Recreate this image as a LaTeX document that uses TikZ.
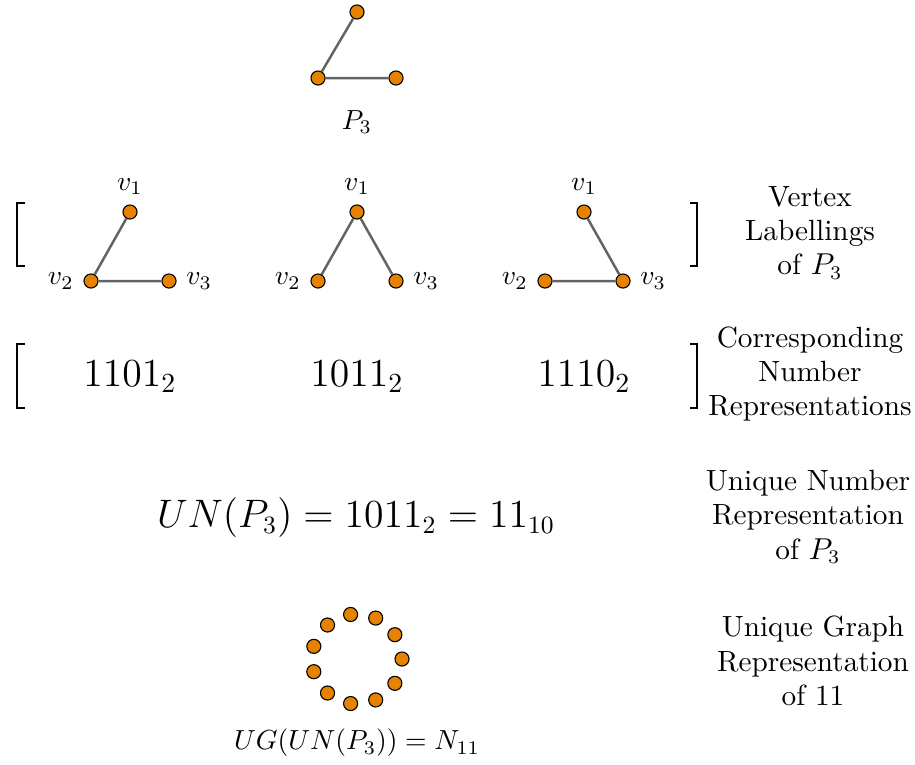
\documentclass[tikz,border=0pt]{standalone}
\usepackage{amsmath,amssymb}
\usepackage{tikz}
\usetikzlibrary{positioning,calc}
\definecolor{vertexorange}{RGB}{230,130,0}
\definecolor{edgegray}{RGB}{100,100,100}

\begin{document}
\begin{tikzpicture}[x=0.3623pt,y=-0.3623pt,
    vert/.style={circle, draw=black, line width=0.4pt, fill=vertexorange, inner sep=0pt, minimum size=5.1pt},
    edge/.style={edgegray, line width=0.9pt},
    brk/.style={line width=1pt},
    caption/.style={align=center, font=\fontsize{10.6}{12.4}\selectfont},
    numtext/.style={font=\fontsize{14}{17}\selectfont}]
  \useasboundingbox (0,0) rectangle (915,764);

  % the path P_3
  \node[vert] (t1) at (357,12) {};
  \node[vert] (t2) at (318,78) {};
  \node[vert] (t3) at (396,78) {};
  \draw[edge] (t1) -- (t2) -- (t3);
  \node (tlab) at (357,122) {$P_3$};

  % its three labellings
  \foreach \n/\x in {a/130, b/357, c/584} {
    \node[vert, label=above:$v_1$] (\n1) at (\x,212) {};
    \node[vert, label=left:$v_2$] (\n2) at (\x-39,281) {};
    \node[vert, label=right:$v_3$] (\n3) at (\x+39,281) {};
  }
  \draw[edge] (a1) -- (a2) -- (a3);
  \draw[edge] (b2) -- (b1) -- (b3);
  \draw[edge] (c1) -- (c3) -- (c2);
  \draw[brk] (25,203) -- (17,203) -- (17,266) -- (25,266);
  \draw[brk] (690,203) -- (697,203) -- (697,266) -- (690,266);
  \node[caption] (capa) at (810,233) {Vertex\\Labellings\\of $P_3$};

  % numbers
  \node[numtext] (na) at (130,377) {$1101_2$};
  \node[numtext] (nb) at (357,377) {$1011_2$};
  \node[numtext] (nc) at (584,377) {$1110_2$};
  \draw[brk] (25,344) -- (17,344) -- (17,408) -- (25,408);
  \draw[brk] (690,344) -- (697,344) -- (697,408) -- (690,408);
  \node[caption] (capb) at (810,374) {Corresponding\\Number\\Representations};

  % unique number
  \node[font=\fontsize{13.5}{16}\selectfont] (un) at (356,518) {$UN(P_3) = 1011_2 = 11_{10}$};
  \node[caption] (capc) at (808,517) {Unique Number\\Representation\\of $P_3$};

  % N_11
  \coordinate (ctr) at (357,659);
  \foreach \k in {0,...,10}
    \node[vert] (w\k) at ($(ctr)+(\k*360/11:45)$) {};
  \node (ug) at (357,743) {$UG(UN(P_3)) = N_{11}$};
  \node[caption] (capd) at (813,661) {Unique Graph\\Representation\\of 11};
\end{tikzpicture}
\end{document}
